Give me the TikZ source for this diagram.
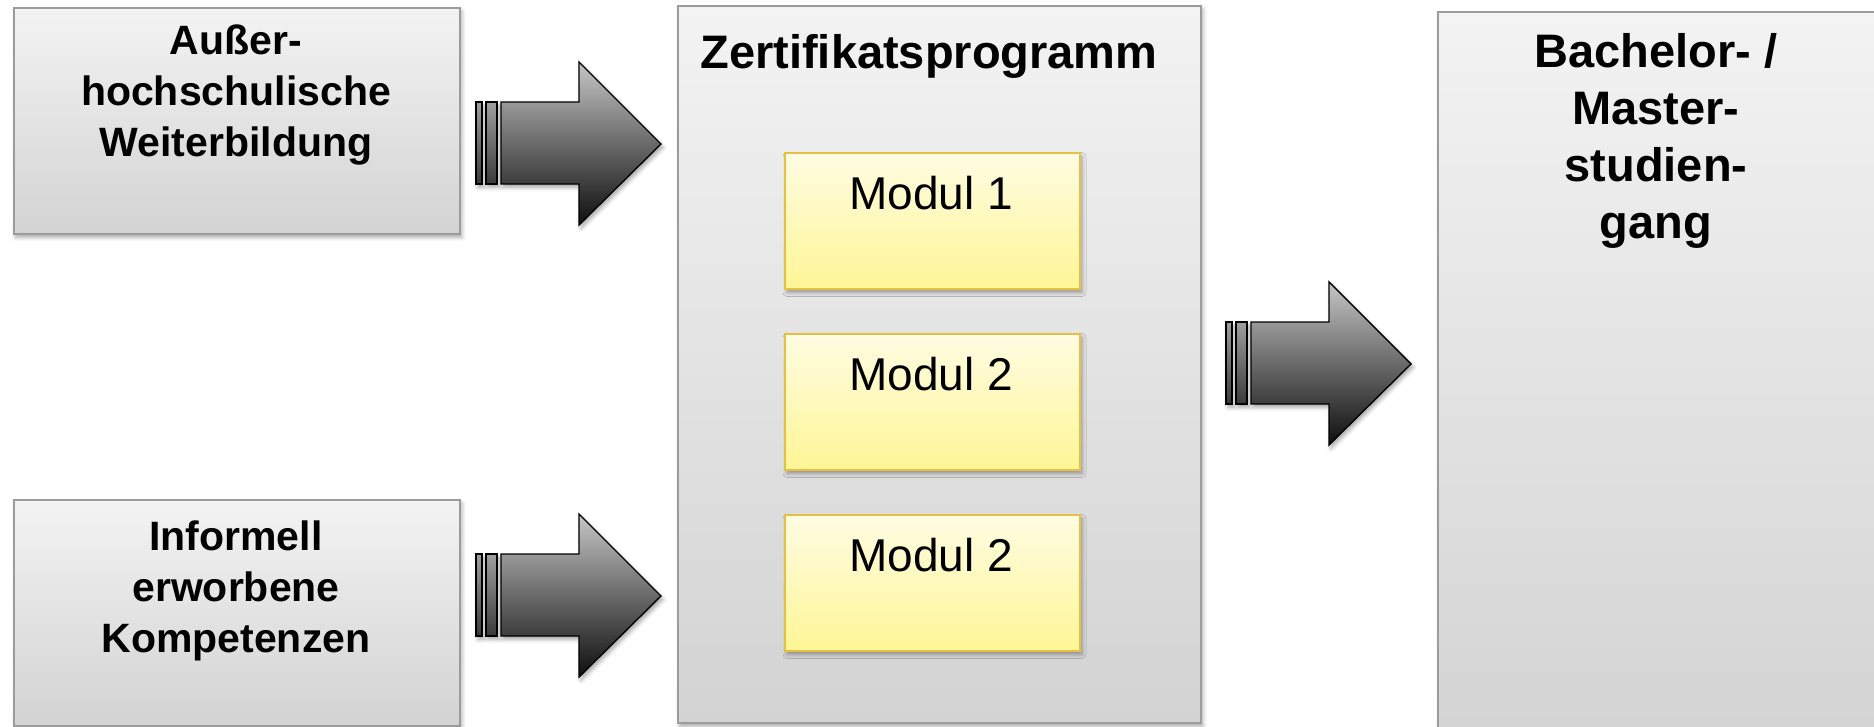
\documentclass[tikz,border=0pt]{standalone}
\usepackage{fontspec}
\setmainfont{Liberation Sans}
\usetikzlibrary{shadows.blur}

\definecolor{boxtop}{HTML}{F3F3F3}
\definecolor{boxbottom}{HTML}{D3D3D3}
\definecolor{boxline}{HTML}{9C9C9C}
\definecolor{modtop}{HTML}{FFFCE2}
\definecolor{modbottom}{HTML}{FFF696}
\definecolor{modline}{HTML}{E6C044}
\definecolor{arrtop}{HTML}{C6C6C6}
\definecolor{arrbottom}{HTML}{0E0E0E}

\tikzset{
  softshadow/.style={blur shadow={shadow xshift=2pt, shadow yshift=-3.5pt,
      shadow blur radius=4pt, shadow opacity=35}},
  greybox/.style={draw=boxline, line width=1.6pt, top color=boxtop,
      bottom color=boxbottom, softshadow, anchor=north west, inner sep=0pt},
  modbox/.style={draw=modline, line width=2pt, top color=modtop,
      bottom color=modbottom, softshadow, anchor=north west, inner sep=0pt,
      minimum width=295pt, minimum height=136pt},
  sidelabel/.style={font=\bfseries\fontsize{41}{51}\selectfont, align=center,
      inner sep=0pt, anchor=north},
  titlelabel/.style={font=\bfseries\fontsize{47}{57}\selectfont, align=center,
      inner sep=0pt},
  modlabel/.style={font=\fontsize{46}{55}\selectfont, inner sep=0pt, anchor=base},
  arrowbody/.style={draw=black, line width=1.4pt, line join=miter,
      top color=arrtop, bottom color=arrbottom, softshadow},
  arrowstripe/.style={draw=black, line width=1.4pt, top color=gray!75,
      bottom color=gray!45!black, softshadow},
}

% block arrow with two stripes, drawn at an offset from its base position
\newcommand\blockarrow[2]{%
  \begin{scope}[shift={(#1,#2)}]
    \path[arrowstripe] (476,102) rectangle (482,184);
    \path[arrowstripe] (486,102) rectangle (497,184);
    \path[arrowbody] (501,102) -- (579,102) -- (579,62) -- (661,144)
      -- (579,225) -- (579,184) -- (501,184) -- cycle;
  \end{scope}}

\begin{document}
\begin{tikzpicture}[x=1pt, y=-1pt]
  \useasboundingbox (0,0) rectangle (1874,726);

  % left input boxes
  \node[greybox, minimum width=446pt, minimum height=226pt] (aus) at (13,7) {};
  \node[greybox, minimum width=446pt, minimum height=226pt] (inf) at (13,499) {};

  % certificate programme with its modules
  \node[greybox, minimum width=523pt, minimum height=717pt] (zert) at (677,5) {};
  \node[modbox] (m1) at (784,152) {};
  \node[modbox] (m2) at (784,333) {};
  \node[modbox] (m3) at (784,514) {};

  % degree programme, running off the page
  \node[greybox, minimum width=450pt, minimum height=740pt] (ba) at (1437,11) {};

  % block arrows
  \blockarrow{0}{0}
  \blockarrow{0}{452}
  \blockarrow{750}{220}

  % labels
  \node[sidelabel] (aus-t) at (236,25) {Außer-\\hochschulische\\Weiterbildung};
  \node[sidelabel] (inf-t) at (236,521) {Informell\\erworbene\\Kompetenzen};
  \node[titlelabel, anchor=base] (zert-t) at (929,68) {Zertifikatsprogramm};
  \node[titlelabel, anchor=north] (ba-t) at (1656,33) {Bachelor- /\\Master-\\studien-\\gang};
  \node[modlabel] (m1-t) at (931,209) {Modul 1};
  \node[modlabel] (m2-t) at (931,390) {Modul 2};
  \node[modlabel] (m3-t) at (931,571) {Modul 2};
\end{tikzpicture}
\end{document}
